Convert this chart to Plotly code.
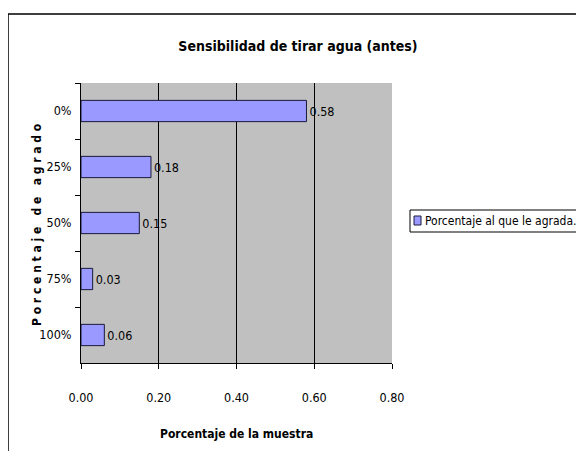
import plotly.graph_objects as go

categories = ["0%", "25%", "50%", "75%", "100%"]
values = [0.58, 0.18, 0.15, 0.03, 0.06]
value_labels = ["0.58", "0.18", "0.15", "0.03", "0.06"]
x_ticks = [0.0, 0.2, 0.4, 0.6, 0.8]
x_tick_labels = ["0.00", "0.20", "0.40", "0.60", "0.80"]
series_name = "Porcentaje al que le agrada."

FONT = "DejaVu Sans Condensed, Liberation Sans Narrow, Liberation Sans, Arial, sans-serif"
BAR_COLOR = "#9999FF"

OFF = 8  # page body margin
W, H = 584 - OFF, 451 - OFF
# plot area in screenshot pixel coords
L, R, T, B = 81, 392, 83, 363
pw, ph = R - L, B - T

def px_x(x):
    return (x - L) / pw

def px_y(y):
    return (B - y) / ph

fig = go.Figure()
fig.add_trace(go.Bar(
    y=categories, x=values, orientation="h",
    name=series_name,
    marker=dict(color=BAR_COLOR, line=dict(color="#1a1a3a", width=1)),
    text=value_labels, textposition="outside", cliponaxis=False,
    textfont=dict(family=FONT, size=12.5, color="black"),
))

fig.update_layout(
    width=W, height=H,
    margin=dict(l=L - OFF, r=W - (R - OFF), t=T - OFF, b=H - (B - OFF), pad=0),
    paper_bgcolor="white", plot_bgcolor="#C0C0C0",
    font=dict(family=FONT, size=12.5, color="black"),
    bargap=0.62,
    showlegend=False,
    title=dict(text="<b>Sensibilidad de tirar agua (antes)</b>",
               x=px_x(298), xref="paper", xanchor="center",
               y=1 - (46 - OFF) / H, yanchor="middle",
               font=dict(family=FONT, size=14, color="black")),
    xaxis=dict(range=[0, 0.8], tickvals=x_ticks, ticktext=x_tick_labels,
               showgrid=True, gridcolor="black", gridwidth=1,
               showline=True, linecolor="black", linewidth=1,
               ticks="outside", ticklen=5, tickcolor="black",
               ticklabelstandoff=18,
               zeroline=False, tickfont=dict(size=12.5)),
    yaxis=dict(categoryorder="array", categoryarray=categories,
               autorange="reversed", tickson="boundaries",
               showline=True, linecolor="black", linewidth=1,
               ticks="outside", ticklen=5, tickcolor="black",
               ticklabelstandoff=6,
               showgrid=False, tickfont=dict(size=12.5)),
    shapes=[
        dict(type="rect", xref="paper", yref="paper",
             x0=px_x(8), x1=px_x(600), y0=px_y(470), y1=px_y(14),
             line=dict(color="black", width=1.5), layer="below"),
        # legend box
        dict(type="rect", xref="paper", yref="paper",
             x0=px_x(410), x1=px_x(590), y0=px_y(232), y1=px_y(210),
             line=dict(color="black", width=1), fillcolor="white"),
        # legend swatch
        dict(type="rect", xref="paper", yref="paper",
             x0=px_x(414), x1=px_x(421), y0=px_y(225), y1=px_y(216),
             line=dict(color="#1a1a3a", width=1), fillcolor=BAR_COLOR),
    ],
    annotations=[
        dict(text="<b>P o r c e n t a j e   d e   a g r a d o</b>",
             x=px_x(28), y=px_y(225), xref="paper", yref="paper",
             textangle=-90, showarrow=False,
             font=dict(family=FONT, size=12, color="black")),
        dict(text="<b>Porcentaje de la muestra</b>",
             x=px_x(236), y=px_y(434), xref="paper", yref="paper",
             xanchor="center", yanchor="middle", showarrow=False,
             font=dict(family=FONT, size=12, color="black")),
        dict(text=series_name, x=px_x(423), y=px_y(221),
             xref="paper", yref="paper", xanchor="left", yanchor="middle",
             showarrow=False, font=dict(family=FONT, size=12, color="black")),
    ],
)

fig.write_html("out.html")
